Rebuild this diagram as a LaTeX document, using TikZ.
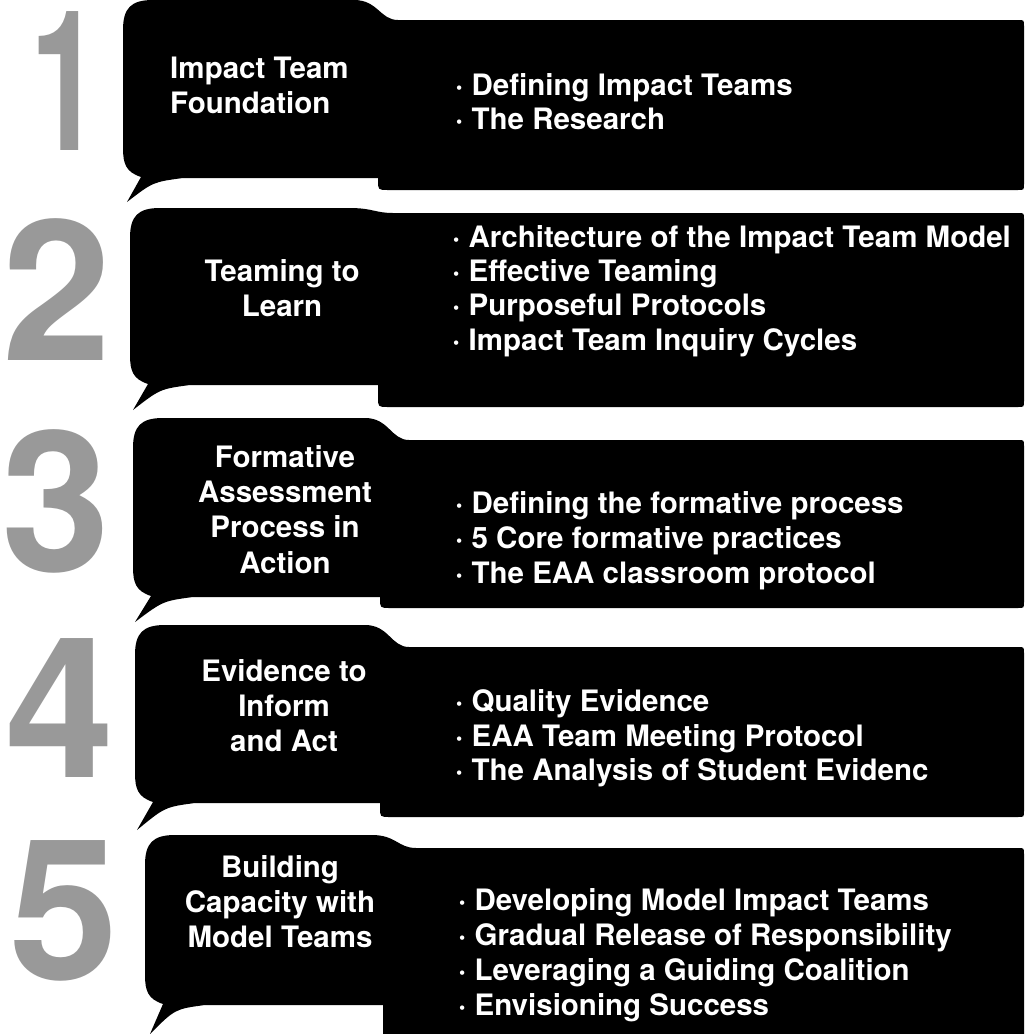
\documentclass[tikz,border=0pt]{standalone}
\usepackage{fontspec}
\setmainfont{TeX Gyre Heros}
\definecolor{digitgray}{gray}{0.6}
\newcommand\titlefont{\bfseries\fontsize{29.5}{35}\selectfont}
\newcommand\digitfont{\bfseries\fontsize{196}{196}\selectfont}
% #1 L, #2 T, #3 R, #4 B, #5 Rb, #6 TB, #7 BB, #8 tip x, #9 tip y
\newcommand\bubbleshape[9]{%
  \fill[bubble] (#1,{#2+30}) .. controls (#1,{#2+8}) and ({#1+8},#2) .. ({#1+30},#2)
  -- ({#3-38},#2) .. controls ({#3-14},#2) and ({#3-12},#4) .. ({#3+6},#4)
  -- (1018,#4) .. controls (1024,#4) .. (1024,{#4+6})
  -- (1024,{#7-6}) .. controls (1024,#7) .. (1018,#7)
  -- ({#5+10},#7) .. controls (#5,#7) .. (#5,{#7-10})
  -- (#5,#6) -- ({#1+60},#6) .. controls ({#1+30},{#6+4}) .. (#8,#9)
  -- ({#1+18},{#6-1}) .. controls ({#1+3},{#6-6}) and (#1,{#6-14}) .. (#1,{#6-30}) -- cycle;}
\begin{document}
\begin{tikzpicture}[x=1pt,y=-1pt,
  bubble/.style={fill=black},
  title/.style={text=white,font=\titlefont,inner sep=0pt,anchor=base},
  titleleft/.style={title,anchor=base west},
  item/.style={text=white,font=\titlefont,inner sep=0pt,anchor=base west},
  digit/.style={text=digitgray,font=\digitfont,inner sep=0pt,anchor=base}]
\useasboundingbox (0,0) rectangle (1026,1034);

% bubbles
\bubbleshape{123}{0}{392}{20}{378}{178}{190}{127}{202}
\bubbleshape{130}{208}{387}{213}{378}{385}{407}{133}{410}
\bubbleshape{133}{418}{403}{440}{380}{597}{608}{135}{622}
\bubbleshape{135}{625}{403}{647}{380}{803}{817}{137}{830}
\bubbleshape{145}{835}{410}{848}{383}{1005}{1050}{150}{1034}

% digits
\node[digit] (d1) at (66,150) {\scalebox{0.65}[1]{1}};
\node[digit] (d2) at (57,360) {2};
\node[digit] (d3) at (56,571) {3};
\node[digit] (d4) at (60,777) {4};
\node[digit] (d5) at (64,979) {5};

% row 1
\node[titleleft] (t1a) at (170,78) {Impact Team};
\node[titleleft] (t1b) at (170,113) {Foundation};
\node[item] (i1a) at (455,95) {· Defining Impact Teams};
\node[item] (i1b) at (455,129) {· The Research};

% row 2
\node[title] (t2a) at (282,281) {Teaming to};
\node[title] (t2b) at (282,316) {Learn};
\node[item] (i2a) at (452,247) {· Architecture of the Impact Team Model};
\node[item] (i2b) at (452,281) {· Effective Teaming};
\node[item] (i2c) at (452,315) {· Purposeful Protocols};
\node[item] (i2d) at (452,350) {· Impact Team Inquiry Cycles};

% row 3
\node[title] (t3a) at (285,467) {Formative};
\node[title] (t3b) at (285,502) {Assessment};
\node[title] (t3c) at (285,537) {Process in};
\node[title] (t3d) at (285,573) {Action};
\node[item] (i3a) at (455,513) {· Defining the formative process};
\node[item] (i3b) at (455,548) {· 5 Core formative practices};
\node[item] (i3c) at (455,583) {· The EAA classroom protocol};

% row 4
\node[title] (t4a) at (284,681) {Evidence to};
\node[title] (t4b) at (284,716) {Inform};
\node[title] (t4c) at (284,751) {and Act};
\node[item] (i4a) at (455,711) {· Quality Evidence};
\node[item] (i4b) at (455,746) {· EAA Team Meeting Protocol};
\node[item] (i4c) at (455,780) {· The Analysis of Student Evidenc};

% row 5
\node[title] (t5a) at (280,877) {Building};
\node[title] (t5b) at (280,912) {Capacity with};
\node[title] (t5c) at (280,947) {Model Teams};
\node[item] (i5a) at (458,910) {· Developing Model Impact Teams};
\node[item] (i5b) at (458,945) {· Gradual Release of Responsibility};
\node[item] (i5c) at (458,980) {· Leveraging a Guiding Coalition};
\node[item] (i5d) at (458,1015) {· Envisioning Success};
\end{tikzpicture}
\end{document}
